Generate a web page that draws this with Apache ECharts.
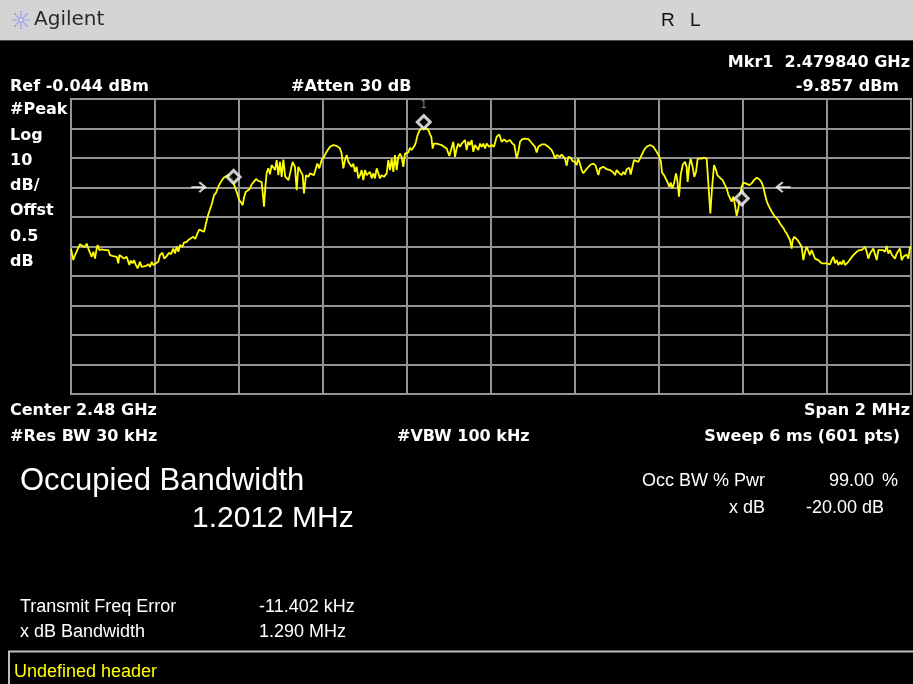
<!DOCTYPE html>
<html>
<head>
<meta charset="utf-8">
<title>Occupied Bandwidth</title>
<script src="https://cdn.jsdelivr.net/npm/echarts/dist/echarts.min.js"></script>
<style>
  html, body { margin: 0; padding: 0; background: #000; }
  #chart { width: 913px; height: 684px; }
</style>
</head>
<body>
<div id="chart"></div>
<script>
// Sweep trace: frequency offset from the 2.48 GHz centre (kHz) and level (dBm)
const freqOffsetKHz = [
  -1000, -994.5, -990.5, -985, -978.6, -972.2, -966.7, -962.7, -958.7, -954.8,
  -950.8, -946.8, -942.9, -938.9, -936.5, -932.6, -927, -919.1, -911.1, -907.2,
  -899.2, -891.3, -887.3, -884.9, -879.4, -873.8, -867.5, -863.5, -861.1, -858,
  -853.2, -850, -845.3, -841.3, -835.7, -831.8, -827.8, -821.4, -815.9, -811.9,
  -807.9, -804, -797.6, -792.1, -788.1, -782.5, -777.8, -772.2, -766.7, -761.9,
  -756.4, -752.4, -748.4, -744.4, -740.5, -734.9, -731, -724.6, -719, -714.3,
  -708.7, -704, -699.2, -694.4, -688.9, -683.3, -678.6, -673.8, -669, -664.3,
  -659.5, -654.8, -650, -645.2, -640.5, -635.7, -629.4, -623, -616.7, -611.9,
  -607.1, -602.4, -599.2, -594.4, -591.3, -588.1, -584.1, -579.4, -573.8, -569.8,
  -564.3, -559.5, -554.7, -550, -546, -542.8, -540.5, -537.3, -534.1, -530.2,
  -526.2, -522.2, -518.2, -514.3, -510.3, -506.3, -502.4, -498.4, -494.4, -490,
  -486, -482,
  -478.6, -472.3, -466.7, -462.7, -458.8, -454.8, -448.4, -445.3, -440.5, -435,
  -431, -427, -421.5, -417.5, -413.5, -408.8, -403.2, -397.6, -391.3, -383.4,
  -375.4, -367.5, -359.5, -355.6, -351.6, -347.6, -343.7, -339.7, -335.7, -331.8,
  -327.8, -323.8, -319.9, -315.9, -311.9, -308, -304, -300, -296.1, -288.1,
  -284.1, -280.2, -276.2, -272.2, -268.3, -264.3, -260.3, -254.8, -248.4, -244.5,
  -240.5, -236.5, -232.6, -228.6, -224.6, -220.7, -216.7, -212.7, -208.7, -204.8,
  -200.8, -196.8, -192.9, -188.9, -184.9, -181, -178.6, -175.4, -170.6, -164.3,
  -160, -153.2, -148.4, -145.3, -142.1, -138.9, -135.7, -129.4, -117.5, -111.9,
  -105.6, -99.2, -95.2, -89.7, -85.7, -81.8, -77.8, -73.8, -69.9, -65.9,
  -61.9, -58, -54, -50, -46, -42.1, -38.1, -34.1, -30.2, -26.2,
  -22.2, -18.3, -14.3, -10.3, -4.8, 1.6, 7.1, 13.5, 19.8, 25.4,
  30.9, 37.3, 45.2, 50.8, 55.6, 61.1, 65.1, 69.1, 74.6, 81,
  88.9, 94.5, 99.2, 104.8, 108.7, 112.7, 120.6, 128.6, 136.5, 144.5,
  148.4, 152.4, 156.4, 164.3, 168.3, 176.2, 180.2, 184.1, 189.7, 194.5,
  200, 204, 207.2, 210.3, 215.9, 219.9, 225.4, 230.2, 237.3, 243.7,
  249.2, 255.6, 259.5, 267.5, 275.4, 283.3, 291.3, 295.3, 299.2, 305.6,
  311.1, 315.1, 319, 323, 329.3, 332.5, 336.5, 340.5, 345.2, 350.8,
  354.7, 358.7, 364.3, 370.6, 378.6, 386.5, 394.4, 400.8, 404.7, 407.1,
  411.9, 416.6, 420.6, 424.6, 427.8, 431.7, 435.7, 440.5, 443.6, 447.6,
  451.6, 456.3, 461.9, 465.9, 468.2, 472.2, 475.4, 480.1, 484.1, 488.1,
  492.1, 496, 501.6, 507.1, 513.5, 517.5, 522.2, 526.2, 531, 535.7,
  538.9, 543.6, 546.8, 551.6, 557.1, 561.1, 565.1, 569, 573, 577,
  580.9, 584.9, 588.9, 592.9, 596.8, 600.8, 606.3, 610.3, 615.1, 620.6,
  626.2, 632.5, 638.9, 644.4, 648.4, 652.4, 656.4, 660.3, 664.3, 668.3,
  672.2, 676.2, 680.2, 684.1, 688.1, 692.1, 696, 700, 704, 707.9,
  711.9, 715.9, 718.3, 722.2, 727.8, 731.8, 735.7, 739.7, 743.7, 747.6,
  751.6, 755.6, 759.5, 763.5, 767.5, 771.4, 775.4, 779.4, 783.4, 787.3,
  791.3, 799.2, 807.1, 811.1, 815.1, 819.1, 823, 827, 831, 834.9,
  838.9, 842.9, 846.8, 850.8, 856.4, 862.7, 866.7, 870.6, 877, 882.5,
  886.5, 890.5, 894.5, 898.4, 902.4, 906.4, 910.3, 914.3, 918.3, 922.2,
  926.2, 932.6, 938.1, 942.1, 946.1, 950, 954, 958, 961.9, 965.9,
  969.9, 973.8, 977.8, 981.8, 985.7, 989.7, 993.7, 997.6, 1000
];
const levelDbm = [
  -50.7, -54.6, -52.9, -51.2, -49.2, -49.9, -50.1, -49.0, -50.7, -51.2,
  -53.5, -51.8, -54.1, -50.7, -49.5, -51.2, -51.0, -51.2, -51.2, -52.9,
  -53.3, -53.5, -55.7, -52.9, -53.5, -54.1, -53.5, -53.7, -56.3, -54.8,
  -55.7, -54.6, -56.3, -57.4, -55.2, -56.9, -57.4, -56.6, -56.0, -56.9,
  -55.2, -56.3, -55.7, -55.2, -52.9, -52.1, -54.1, -53.3, -52.1, -52.6,
  -50.7, -52.4, -50.1, -51.8, -49.5, -50.1, -48.7, -48.4, -47.6, -47.8,
  -46.7, -47.4, -45.6, -44.2, -44.7, -45.0, -42.2, -39.4, -37.4, -35.4,
  -32.6, -31.8, -30.0, -28.6, -27.5, -26.6, -26.1, -25.9, -26.9, -28.9,
  -30.9, -32.9, -34.3, -35.2, -36.0, -33.4, -31.5, -31.1, -30.4, -28.9,
  -28.0, -27.1, -27.7, -27.3, -28.2, -27.7, -36.5, -29.8, -25.0, -23.5,
  -25.5, -22.4, -21.8, -24.1, -20.7, -25.8, -21.3, -26.4, -20.5, -26.3,
  -26.5, -27.5,
  -28.1, -21.3, -23.0, -30.9, -23.0, -23.5, -25.8, -32.0, -25.8, -26.4,
  -25.2, -25.8, -25.8, -23.8, -21.9, -23.5, -20.7, -19.6, -17.9, -16.2,
  -15.6, -15.9, -16.8, -18.5, -23.5, -20.7, -19.0, -21.3, -20.7, -23.0,
  -21.9, -24.7, -23.0, -26.9, -25.8, -24.1, -27.5, -24.1, -25.8, -24.7,
  -26.9, -25.2, -26.9, -23.5, -25.2, -26.9, -25.8, -26.4, -25.2, -20.7,
  -24.1, -20.2, -24.7, -19.0, -24.1, -19.6, -18.5, -19.6, -23.0, -18.5,
  -17.9, -18.1, -16.5, -17.3, -16.8, -15.6, -14.5, -12.5, -10.7, -10.0,
  -9.857, -10.0, -10.7, -12.0, -12.8, -16.8, -15.1, -15.1, -15.6, -16.2,
  -16.8, -19.3, -17.3, -14.5, -19.6, -16.8, -15.1, -16.2, -15.1, -15.6,
  -13.9, -17.3, -14.5, -15.6, -13.9, -17.9, -15.6, -15.6, -17.3, -15.1,
  -16.2, -15.1, -16.8, -15.1, -16.2, -15.6, -16.2, -12.8, -12.0, -14.5,
  -13.7, -14.5, -13.9, -15.1, -15.6, -20.2, -17.9, -14.5, -13.6, -13.4,
  -13.6, -14.5, -14.5, -16.2, -18.1, -16.2, -15.4, -15.4, -16.2, -17.3,
  -18.5, -20.2, -19.0, -19.6, -18.8, -20.2, -22.6, -19.6, -19.9, -21.1,
  -21.3, -22.4, -20.2, -21.3, -24.1, -25.2, -24.1, -23.3, -22.2, -21.9,
  -22.6, -25.8, -23.5, -23.0, -23.8, -24.1, -24.9, -25.8, -24.1, -25.2,
  -25.8, -24.7, -25.6, -23.8, -23.3, -25.6, -26.0, -20.7, -20.4, -21.3,
  -20.7, -19.0, -17.3, -16.2, -15.6, -16.2, -17.9, -19.6, -21.3, -24.9,
  -25.8, -25.6, -28.3, -29.8, -28.3, -30.3, -28.6, -25.2, -27.5, -33.1,
  -25.8, -22.4, -21.3, -23.0, -28.1, -22.4, -20.2, -23.0, -26.4, -24.7,
  -20.2, -19.7, -20.2, -19.9, -20.2, -28.6, -38.8, -30.3, -22.4, -24.1,
  -25.8, -25.2, -26.9, -27.5, -29.2, -30.3, -32.4, -32.6, -34.8, -33.1,
  -36.0, -39.6, -37.1, -32.6, -29.8, -28.3, -28.6, -28.3, -29.2, -28.6,
  -27.5, -26.7, -27.2, -28.3, -29.8, -32.4, -34.6, -36.0, -36.5, -38.2,
  -37.7, -39.9, -40.5, -41.1, -42.2, -42.7, -43.7, -44.8, -45.6, -46.7,
  -47.8, -50.7, -47.8, -46.7, -47.5, -48.2, -48.4, -50.1, -54.6, -51.8,
  -50.1, -49.5, -52.9, -51.2, -51.8, -54.1, -54.3, -54.6, -55.2, -55.7,
  -55.2, -55.7, -56.1, -54.6, -53.5, -55.7, -54.6, -56.3, -55.2, -56.1,
  -54.6, -56.3, -56.5, -55.2, -54.1, -52.9, -52.4, -51.8, -51.2, -51.2,
  -50.7, -50.1, -51.8, -54.1, -52.4, -51.8, -50.7, -51.2, -54.6, -51.2,
  -51.8, -51.2, -51.8, -49.8, -52.4, -51.2, -52.7, -52.4, -54.1, -52.4,
  -52.9, -50.7, -54.6, -53.5, -54.1, -52.7, -54.1, -50.1, -50.7
];

// Marker 1 (peak search)
const markerKHz = -160;
const markerDbm = -9.857;
// Occupied-bandwidth edge markers
const obwEdgeKHz = [-613, 597];
const obwEdgeDbm = [-26.4, -33.7];
// x dB bandwidth indicators, drawn at marker level + x dB
const xdBValue = -20;
const xdBArrowKHz = [-697, 697];

// Display scale
const refLevelDbm = 0;
const dbPerDiv = 10;
const spanKHz = 2000;

const tracePoints = freqOffsetKHz.map((f, i) => [f, levelDbm[i]]);

const boldFont = 'bold 16px "DejaVu Sans"';
const resultFont = '18px "Liberation Sans"';
const white = '#ffffff';

function label(text, x, y, align, font, color) {
  return {
    type: 'text', x: x, y: y, silent: true,
    style: {
      text: text, fill: color || white, font: font || boldFont,
      textAlign: align || 'left', textVerticalAlign: 'middle'
    }
  };
}

// Agilent spark logo: short dashed rays around a centre point
function sparkLogo(cx, cy) {
  const rays = [];
  for (let k = 0; k < 8; k++) {
    const a = k * Math.PI / 4;
    rays.push({
      type: 'line',
      shape: { x1: cx + Math.cos(a) * 2, y1: cy + Math.sin(a) * 2,
               x2: cx + Math.cos(a) * 9, y2: cy + Math.sin(a) * 9 },
      style: { stroke: '#6f7cff', lineWidth: 1.2, lineDash: [1.5, 1.2] }
    });
  }
  return { type: 'group', silent: true, children: rays };
}

const markerStyle = { color: '#000000', borderColor: '#ffffff', borderWidth: 3 };
const arrowStyle = { color: 'rgba(0,0,0,0)', borderColor: '#ffffff', borderWidth: 2 };

const chart = echarts.init(document.getElementById('chart'), null, { renderer: 'canvas' });

chart.setOption({
  backgroundColor: '#000000',
  animation: false,
  grid: {
    left: 71, top: 99, width: 840, height: 295,
    show: true, borderColor: '#b8b8b8', borderWidth: 2, backgroundColor: 'transparent'
  },
  xAxis: {
    type: 'value', min: -spanKHz / 2, max: spanKHz / 2, interval: spanKHz / 10,
    axisLine: { show: false }, axisTick: { show: false }, axisLabel: { show: false },
    splitLine: { show: true, lineStyle: { color: '#949494', width: 2 } }
  },
  yAxis: {
    type: 'value', min: refLevelDbm - 10 * dbPerDiv, max: refLevelDbm, interval: dbPerDiv,
    axisLine: { show: false }, axisTick: { show: false }, axisLabel: { show: false },
    splitLine: { show: true, lineStyle: { color: '#949494', width: 2 } }
  },
  series: [
    {
      type: 'line', data: tracePoints, showSymbol: false, z: 3,
      lineStyle: { color: '#ffff00', width: 1.8 }
    },
    {
      type: 'scatter', z: 5,
      data: obwEdgeKHz.map((f, i) => [f, obwEdgeDbm[i]]),
      symbol: 'diamond', symbolSize: 13, itemStyle: markerStyle
    },
    {
      type: 'scatter', z: 5,
      data: [[markerKHz, markerDbm]],
      symbol: 'diamond', symbolSize: 13, symbolOffset: [0, -6],
      itemStyle: markerStyle,
      label: {
        show: true, formatter: '1', position: 'top', distance: 4,
        color: '#a8a8a8', fontSize: 10, fontFamily: 'DejaVu Sans'
      }
    },
    {
      type: 'scatter', z: 5,
      data: [[xdBArrowKHz[0], markerDbm + xdBValue]],
      symbol: 'path://M0,5L14,5M8,0L14,5L8,10', symbolSize: [14, 10],
      itemStyle: arrowStyle
    },
    {
      type: 'scatter', z: 5,
      data: [[xdBArrowKHz[1], markerDbm + xdBValue]],
      symbol: 'path://M14,5L0,5M6,0L0,5L6,10', symbolSize: [14, 10],
      itemStyle: arrowStyle
    }
  ],
  graphic: [
    // title bar
    { type: 'rect', silent: true, z: -1, shape: { x: 0, y: 0, width: 913, height: 40 },
      style: { fill: '#d4d4d4' } },
    { type: 'line', silent: true, shape: { x1: 0, y1: 40.5, x2: 913, y2: 40.5 },
      style: { stroke: '#4a4a4a', lineWidth: 1 } },
    sparkLogo(21, 20),
    label('Agilent', 34, 20, 'left', '20px "DejaVu Sans"', '#2a2a2a'),
    label('R', 661, 21, 'left', '19px "Liberation Sans"', '#111111'),
    label('L', 690, 21, 'left', '19px "Liberation Sans"', '#111111'),

    // instrument settings
    label('Mkr1  2.479840 GHz', 910, 63, 'right'),
    label('Ref -0.044 dBm', 10, 87, 'left'),
    label('#Atten 30 dB', 291, 87, 'left'),
    label('-9.857 dBm', 899, 87, 'right'),
    label('#Peak', 10, 110, 'left'),
    label('Log', 10, 136, 'left'),
    label('10', 10, 161, 'left'),
    label('dB/', 10, 186, 'left'),
    label('Offst', 10, 211, 'left'),
    label('0.5', 10, 237, 'left'),
    label('dB', 10, 262, 'left'),
    label('Center 2.48 GHz', 10, 411, 'left'),
    label('Span 2 MHz', 910, 411, 'right'),
    label('#Res BW 30 kHz', 10, 437, 'left'),
    label('#VBW 100 kHz', 397, 437, 'left'),
    label('Sweep 6 ms (601 pts)', 900, 437, 'right'),

    // measurement results
    label('Occupied Bandwidth', 20, 481, 'left', '31px "Liberation Sans"'),
    label('1.2012 MHz', 192, 519, 'left', '30px "Liberation Sans"'),
    label('Occ BW % Pwr', 642, 481, 'left', resultFont),
    label('99.00', 874, 481, 'right', resultFont),
    label('%', 898, 481, 'right', resultFont),
    label('x dB', 765, 508, 'right', resultFont),
    label('-20.00 dB', 806, 508, 'left', resultFont),
    label('Transmit Freq Error', 20, 607, 'left', resultFont),
    label('-11.402 kHz', 259, 607, 'left', resultFont),
    label('x dB Bandwidth', 20, 632, 'left', resultFont),
    label('1.290 MHz', 259, 632, 'left', resultFont),

    // status line
    { type: 'rect', silent: true, shape: { x: 9, y: 651.5, width: 912, height: 40 },
      style: { fill: '#000000', stroke: '#bdbdbd', lineWidth: 2 } },
    label('Undefined header', 14, 672, 'left', '18px "Liberation Sans"', '#ffff00')
  ]
});
</script>
</body>
</html>
